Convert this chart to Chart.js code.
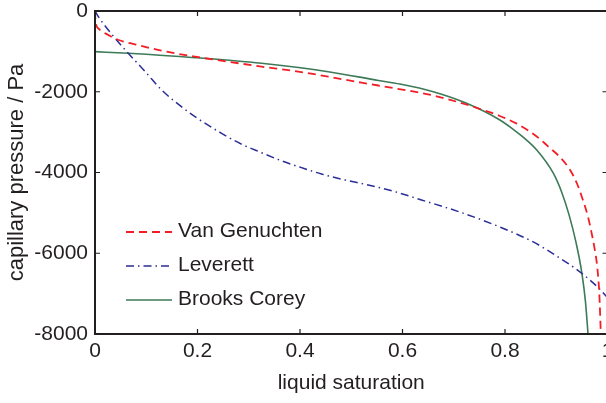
<!DOCTYPE html>
<html>
<head>
<meta charset="utf-8">
<script src="https://cdn.jsdelivr.net/npm/chart.js@4"></script>
<style>
    html, body { margin: 0; padding: 0; background: #fff; overflow: hidden; }
    #wrap { width: 606px; height: 403px; overflow: hidden; }
</style>
</head>
<body>
<div id="wrap"><canvas id="chart" width="620" height="403"></canvas></div>
<script>
// liquid saturation / capillary pressure (Pa)
const satVG = [0, 0.001, 0.0065, 0.026, 0.046, 0.078, 0.13, 0.195, 0.26, 0.325, 0.39, 0.455, 0.52, 0.585, 0.647, 0.693, 0.745, 0.79, 0.823, 0.849, 0.868, 0.882, 0.907, 0.927, 0.94, 0.952, 0.962, 0.969, 0.975, 0.98, 0.984, 0.987];
const pcVG = [0, -250, -430, -594, -718, -826, -983, -1131, -1255, -1379, -1486, -1627, -1775, -1915, -2056, -2200, -2400, -2600, -2790, -2990, -3170, -3330, -3616, -3938, -4260, -4681, -5100, -5500, -5900, -6340, -7000, -8000];

const satLev = [0, 0.0065, 0.026, 0.042, 0.062, 0.098, 0.13, 0.172, 0.195, 0.247, 0.286, 0.325, 0.364, 0.403, 0.442, 0.488, 0.533, 0.585, 0.637, 0.712, 0.79, 0.855, 0.907, 0.946, 0.985, 1.0];
const pcLev = [0, -141, -470, -718, -1007, -1503, -1957, -2402, -2617, -3030, -3300, -3510, -3710, -3880, -4037, -4186, -4310, -4475, -4680, -4980, -5350, -5720, -6120, -6460, -6890, -7100];

const satBC = [0, 0.065, 0.195, 0.325, 0.455, 0.553, 0.595, 0.66, 0.725, 0.79, 0.816, 0.836, 0.862, 0.894, 0.911, 0.925, 0.938, 0.95, 0.957, 0.962];
const pcBC = [-1007, -1048, -1156, -1296, -1503, -1720, -1810, -2000, -2287, -2700, -2930, -3130, -3443, -4012, -4500, -5050, -5700, -6490, -7200, -8000];

const xTicks = [0, 0.2, 0.4, 0.6, 0.8, 1];
const yTicks = [0, -2000, -4000, -6000, -8000];

const labels = ['Van Genuchten', 'Leverett', 'Brooks Corey'];

const font = "'Liberation Sans', Arial, sans-serif";
const ink = '#231f20';

function pts(xs, ys) {
    return xs.map((x, i) => ({ x: x, y: ys[i] }));
}

// box, inward ticks and the legend inside the plot, MATLAB style
const framePlugin = {
    id: 'frame',
    afterDraw(chart) {
        const ctx = chart.ctx;
        const a = chart.chartArea;
        const x = chart.scales.x;
        const y = chart.scales.y;
        ctx.save();
        ctx.strokeStyle = ink;
        ctx.lineWidth = 2;
        ctx.strokeRect(a.left, a.top, a.right - a.left, a.bottom - a.top);

        ctx.lineWidth = 1.2;
        ctx.beginPath();
        xTicks.forEach(v => {
            const px = x.getPixelForValue(v);
            ctx.moveTo(px, a.bottom); ctx.lineTo(px, a.bottom - 5);
            ctx.moveTo(px, a.top); ctx.lineTo(px, a.top + 5);
        });
        yTicks.forEach(v => {
            const py = y.getPixelForValue(v);
            ctx.moveTo(a.left, py); ctx.lineTo(a.left + 5, py);
            ctx.moveTo(a.right, py); ctx.lineTo(a.right - 5, py);
        });
        ctx.stroke();

        // legend
        ctx.font = '21px ' + font;
        ctx.textBaseline = 'middle';
        ctx.fillStyle = ink;
        chart.data.datasets.forEach((ds, i) => {
            const ly = 232 + i * 34;
            ctx.save();
            ctx.strokeStyle = ds.borderColor;
            ctx.lineWidth = ds.borderWidth;
            ctx.setLineDash(ds.borderDash || []);
            ctx.beginPath();
            ctx.moveTo(126, ly);
            ctx.lineTo(172, ly);
            ctx.stroke();
            ctx.restore();
            ctx.fillText(ds.label, 178, ly - 1);
        });
        ctx.restore();
    }
};

window.addEventListener('load', () => {
    buildChart();
});

function buildChart() {
    const chartCtx = document.getElementById('chart').getContext('2d');

    new Chart(chartCtx, {
        type: 'scatter',
        data: {
            datasets: [{
                label: labels[0],
                data: pts(satVG, pcVG),
                showLine: true,
                borderColor: '#f21d25',
                borderWidth: 1.8,
                borderDash: [8, 5],
                pointRadius: 0,
                cubicInterpolationMode: 'monotone'
            },
            {
                label: labels[1],
                data: pts(satLev, pcLev),
                showLine: true,
                borderColor: '#2b2e96',
                borderWidth: 1.5,
                borderDash: [8, 4, 1.5, 4],
                pointRadius: 0,
                cubicInterpolationMode: 'monotone'
            },
            {
                label: labels[2],
                data: pts(satBC, pcBC),
                showLine: true,
                borderColor: '#3d7a58',
                borderWidth: 1.6,
                pointRadius: 0,
                cubicInterpolationMode: 'monotone'
            }]
        },
        options: {
            responsive: false,
            animation: false,
            layout: {
                padding: { left: 0, top: 11, right: 12.5, bottom: 0 }
            },
            plugins: {
                legend: { display: false },
                tooltip: { enabled: false }
            },
            scales: {
                x: {
                    type: 'linear',
                    min: 0,
                    max: 1,
                    grid: { display: false, drawTicks: false },
                    border: { display: false },
                    afterBuildTicks: s => { s.ticks = xTicks.map(v => ({ value: v })); },
                    afterFit: s => {
                        s.height = 69;
                        s.paddingLeft = 0;
                        s.paddingRight = 0;
                    },
                    ticks: {
                        autoSkip: false,
                        maxRotation: 0,
                        padding: 7,
                        color: ink,
                        font: { family: font, size: 21, lineHeight: 1 },
                        callback: v => String(v)
                    },
                    title: {
                        display: true,
                        text: 'liquid saturation',
                        color: ink,
                        font: { family: font, size: 21 },
                        padding: { top: 0, bottom: 7 }
                    }
                },
                y: {
                    type: 'linear',
                    min: -8000,
                    max: 0,
                    grid: { display: false, drawTicks: false },
                    border: { display: false },
                    afterBuildTicks: s => { s.ticks = yTicks.map(v => ({ value: v })); },
                    afterFit: s => {
                        s.width = 95;
                        s.paddingTop = 0;
                        s.paddingBottom = 0;
                    },
                    ticks: {
                        autoSkip: false,
                        padding: 7,
                        color: ink,
                        font: { family: font, size: 21, lineHeight: 1 },
                        callback: v => String(v)
                    },
                    title: {
                        display: true,
                        text: 'capillary pressure / Pa',
                        color: ink,
                        font: { family: font, size: 22 },
                        padding: { top: 4, bottom: 0 }
                    }
                }
            }
        },
        plugins: [framePlugin]
    });
}
</script>
</body>
</html>
